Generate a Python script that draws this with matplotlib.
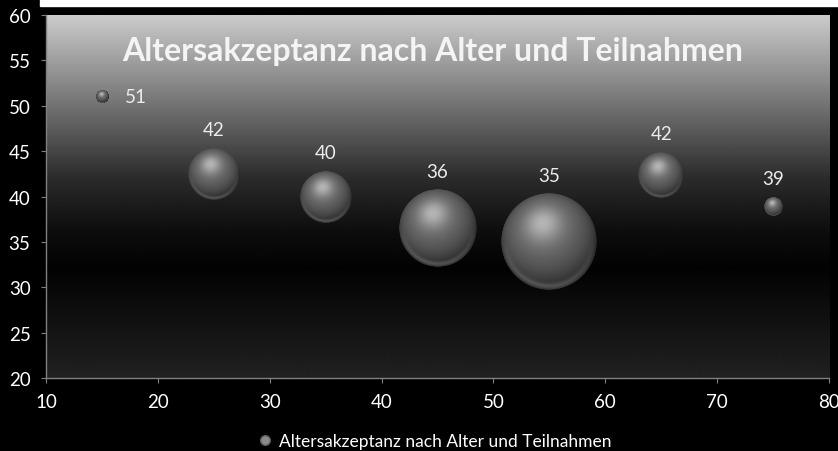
import numpy as np
import matplotlib
matplotlib.use("Agg")
import matplotlib.pyplot as plt
from matplotlib.offsetbox import OffsetImage, AnnotationBbox
from matplotlib.lines import Line2D
from matplotlib.patches import Rectangle

# data
alter = [15, 25, 35, 45, 55, 65, 75]
akzeptanz = [51.0, 42.45, 39.9, 36.45, 35.0, 42.4, 38.9]
teilnahmen = [3, 55, 55, 121, 188, 43, 7]
x_ticks = [10, 20, 30, 40, 50, 60, 70, 80]
y_ticks = [20, 25, 30, 35, 40, 45, 50, 55, 60]
titel = "Altersakzeptanz nach Alter und Teilnahmen"

plt.rcParams['font.family'] = ['Lato', 'DejaVu Sans']

DPI = 100
MAX_D = 96  # pixel diameter of the largest bubble


def sphere(n=256):
    # grey shaded ball as rgba image
    c = (n - 1) / 2
    yy, xx = np.mgrid[0:n, 0:n]
    u = (xx - c) / (n / 2)
    v = -(yy - c) / (n / 2)
    r = np.sqrt(u ** 2 + v ** 2)
    z = np.sqrt(np.clip(1 - r ** 2, 0, 1))
    L = np.array([-0.13, 0.38, 0.92])
    L = L / np.linalg.norm(L)
    d = np.clip(u * L[0] + v * L[1] + z * L[2], 0, 1)
    val = 0.15 + 0.30 * d + 0.26 * d ** 14
    rim = 0.18 * np.exp(-((r - 0.92) / 0.06) ** 2) * np.clip(-v, 0, 1)
    val = np.clip(val + rim, 0, 1)
    alpha = np.clip((1 - r) * n / 3, 0, 1)
    return np.dstack([val, val, val, alpha])


fig = plt.figure(figsize=(8.38, 4.52), dpi=DPI, facecolor='black')
fig.add_artist(Rectangle((40 / 838, 1 - 7 / 452), 1, 7 / 452,
                         transform=fig.transFigure, color='white', zorder=0))
ax = fig.add_axes([0.0549, 0.1615, 0.9344, 0.8031])

# background gradient of plot area
stops_t = [0.0, 0.1, 0.25, 0.45, 0.6, 0.7, 0.85, 1.0]
stops_g = [0.80, 0.66, 0.45, 0.17, 0.05, 0.01, 0.07, 0.13]
t = np.linspace(0, 1, 400)
g = np.interp(t, stops_t, stops_g)
grad = np.repeat(g[:, None], 2, axis=1)
ax.imshow(grad, cmap='gray', vmin=0, vmax=1, extent=[0, 1, 0, 1],
          transform=ax.transAxes, aspect='auto', zorder=0,
          interpolation='bilinear')

ax.set_xlim(10, 80)
ax.set_ylim(20, 60)
ax.set_xticks(x_ticks)
ax.set_yticks(y_ticks)

ball = sphere()
smax = max(teilnahmen)
for i, (x, y, s) in enumerate(zip(alter, akzeptanz, teilnahmen)):
    d_px = MAX_D * np.sqrt(s / smax)
    im = OffsetImage(ball, zoom=d_px / ball.shape[0], dpi_cor=False)
    ab = AnnotationBbox(im, (x, y), xycoords='data', frameon=False, pad=0,
                        box_alignment=(0.5, 0.5), zorder=3)
    ax.add_artist(ab)
    r_pt = d_px / 2 * 72 / DPI
    if i == 0:
        ax.annotate(f"{y:.0f}", (x, y), xytext=(r_pt + 12, -4),
                    textcoords='offset points', ha='left', va='baseline',
                    color='#ececec', fontsize=13.5, zorder=4)
    else:
        ax.annotate(f"{y:.0f}", (x, y), xytext=(0, r_pt + 9.4),
                    textcoords='offset points', ha='center', va='baseline',
                    color='#ececec', fontsize=13.5, zorder=4)

for side in ['top', 'right']:
    ax.spines[side].set_visible(False)
for side in ['left', 'bottom']:
    ax.spines[side].set_color('#808080')
    ax.spines[side].set_linewidth(1)
ax.tick_params(direction='out', length=3.6, width=0.8, color='#808080',
               labelcolor='white', labelsize=13.5, pad=7.5)

fig.text(433 / 838, 1 - 52 / 452, titel, ha='center', va='center',
         color='#f4f4f4', fontsize=23, fontweight='bold')

h = Line2D([], [], marker='o', ls='', markersize=7,
           markerfacecolor='#8a8a8a', markeredgecolor='#5a5a5a')
fig.legend(handles=[h], labels=[titel], loc='center',
           bbox_to_anchor=(434 / 838, 1 - 442 / 452), frameon=False,
           labelcolor='white', fontsize=12.5, handletextpad=0.3,
           handlelength=1)

fig.savefig('out.png', dpi=DPI, facecolor='black')
